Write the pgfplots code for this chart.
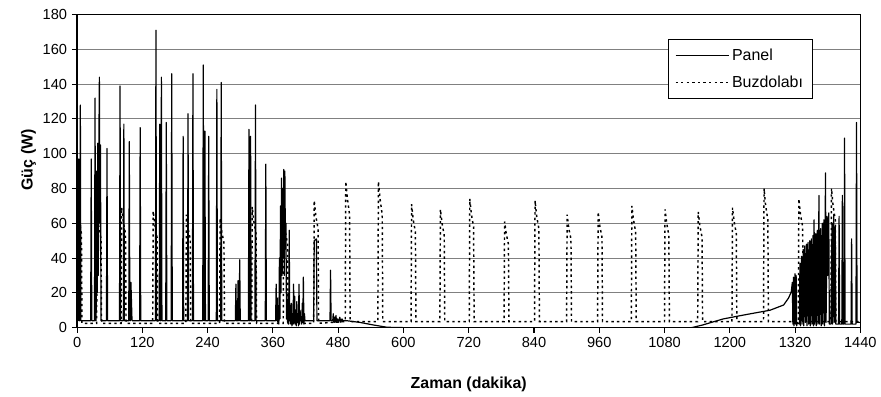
\documentclass[border=0pt]{standalone}
\usepackage{fontspec}
\setmainfont{Liberation Sans}
\usepackage{pgfplots}
\pgfplotsset{compat=1.18}
\definecolor{gridgray}{RGB}{128,128,128}
\begin{document}
\begin{tikzpicture}
\begin{axis}[
  scale only axis, width=589.3pt, height=235.5pt,
  xmin=0, xmax=1440, ymin=0, ymax=180,
  xtick={0,120,...,1440}, ytick={0,20,...,180},
  tick align=outside, major tick length=4pt, tick pos=left,
  ymajorgrids, grid style={gridgray, line width=0.75pt},
  axis line style={black, line width=1pt},
  tick style={black, line width=0.8pt},
  ticklabel style={font=\fontsize{11}{13}\selectfont},
  /pgf/number format/assume math mode=true,
  /pgf/number format/1000 sep={},
  xlabel={Zaman (dakika)}, ylabel={Güç (W)},
  every axis x label/.style={at={(axis description cs:0.5,0)}, anchor=center, yshift=-43pt,
    font=\fontsize{12}{14}\selectfont\bfseries},
  every axis y label/.style={at={(axis description cs:0,0.536)}, xshift=-36.6pt, rotate=90, anchor=center,
    font=\fontsize{12}{14}\selectfont\bfseries},
  legend style={at={(0.754,0.9226)}, anchor=north west, draw=black, line width=0.75pt, fill=white,
    font=\fontsize{12}{14}\selectfont, inner xsep=5pt, inner ysep=5pt, row sep=6pt},
  legend cell align=left,
  legend image code/.code={\draw[#1] (0pt,0pt) -- (40pt,0pt);},
]
\addplot[black, line width=0.9pt, line join=round] coordinates {
(0,4) (2,4) (3,97) (4,4) (5,4) (6,128) (7,4) (25,4) (26,97) (27,4) (32,4) (33,132) (34,4)
(35,4) (36,90) (37,20) (38,106) (39,30) (40,104) (41,144) (42,60) (43,105) (44,4)
(54,4) (55,103) (56,4) (78,4) (79,139) (80,4) (85,4) (86,117) (87,4) (95,4) (96,107) (97,4)
(98,4) (99,26) (101,4) (115,4) (116,115) (117,4) (144,4) (145,171) (146,4) (151,4) (152,117) (153,4)
(154,4) (155,144) (156,4) (163,4) (164,118) (165,4) (173,4) (174,146) (175,4) (194,4) (195,110) (196,4)
(203,4) (204,123) (205,4) (212,4) (213,146) (214,4) (231,4) (232,151) (233,4) (234,4) (235,113) (236,4)
(241,4) (242,110) (243,4) (256,4) (257,137) (258,4) (264,4) (265,141) (266,4) (291,4) (292,25) (293,4)
(295,4) (296,27) (297,4) (298,4) (299,39) (300,4) (315,4) (316,114) (317,4) (318,4) (319,110) (320,4)
(327,4) (328,128) (329,4) (346,4) (347,94) (348,4) (365,4) (366,25) (367,4) (368,17) (369,3) (370,8)
(371,2) (372,40) (373,5) (374,70) (375,20) (376,86) (377,30) (378,80) (379,40) (380,91) (381,30)
(382,90) (383,50) (384,60) (385,5) (386,20) (387,3) (388,12) (389,2) (390,56) (391,4) (392,10)
(393,2) (394,14) (395,1) (396,8) (397,2) (398,25) (399,3) (400,18) (401,2) (402,10) (403,1) (404,15)
(405,3) (406,8) (407,1) (408,25) (409,2) (410,10) (411,4) (412,6) (413,2) (414,14) (415,3) (416,29)
(417,2) (418,8) (419,4) (435,4) (436,50) (440,51) (441,4) (465,4) (466,33) (467,4) (470,4) (471,8)
(472,3) (473,6) (474,3) (476,7) (477,3) (479,5) (481,3) (483,6) (485,3) (487,5) (489,4) (495,4)
(520,3) (545,1.5) (570,0.2) (600,0) (1130,0) (1150,1.5) (1188,5) (1230,7.5) (1274,10) (1299,13)
(1308,17) (1313,20.5) (1315,26) (1316,2) (1317,29) (1318,1) (1320,31) (1321,2) (1322,30) (1323,1)
(1324,3) (1328,2) (1329,37) (1330,1) (1332,41) (1333,2) (1335,45) (1336,1) (1338,47) (1339,3)
(1341,48) (1342,1) (1344,49) (1345,2) (1347,50) (1348,1) (1350,51) (1351,2) (1353,53) (1354,1)
(1355,62) (1356,2) (1358,54) (1359,1) (1361,56) (1362,2) (1364,76) (1365,2) (1367,57) (1368,1)
(1370,60) (1371,2) (1373,62) (1374,1) (1376,89) (1377,3) (1379,64) (1380,30) (1382,66) (1383,2)
(1386,2) (1388,60) (1389,2) (1391,65) (1392,3) (1394,58) (1395,2) (1400,2) (1401,64)
(1402,2) (1406,2) (1407,76) (1408,2) (1410,2) (1411,109) (1412,2) (1423,2) (1424,51) (1425,2)
(1432,2) (1433,118) (1434,3) (1440,3)
};
\addlegendentry{Panel}
\addplot[black, line width=1.1pt, dash pattern=on 1.8pt off 2.4pt] coordinates {
(0,2.5) (1,69) (4,61) (8,54) (9,2.5)
(36,2.5) (37,66) (40,58) (44,51) (45,2.5)
(81,2.5) (82,69) (85,61) (89,54) (90,2.5)
(139,2.5) (140,67) (143,59) (147,52) (148,2.5)
(200,2.5) (201,65) (204,57) (208,51) (209,2.5)
(262,2.5) (263,63) (266,55) (270,49) (271,2.5)
(321,2.5) (322,69.5) (325,61) (329,54) (330,2.5)
(379,2.5) (380,62) (383,55) (387,48) (388,2.5)
(435,2.5) (436,73) (439,64) (443,57) (444,2.5)
(493,3.5) (494,84) (497,74) (501,65) (502,3.5)
(553,3.5) (554,84) (557,74) (561,65) (562,3.5)
(614,3.5) (615,71) (618,62) (622,55) (623,3.5)
(667,3.5) (668,68) (671,60) (675,53) (676,3.5)
(721,3.5) (722,74) (725,65) (729,58) (730,3.5)
(785,3.5) (786,61) (789,54) (793,48) (794,3.5)
(841,3.5) (842,73) (845,64) (849,57) (850,3.5)
(900,3.5) (901,65) (904,57) (908,51) (909,3.5)
(957,3.5) (958,66.5) (961,58.5) (965,52) (966,3.5)
(1019,3.5) (1020,70) (1023,62) (1027,55) (1028,3.5)
(1080,3.5) (1081,68) (1084,60) (1088,53) (1089,3.5)
(1141,3.5) (1142,66.5) (1145,58.5) (1149,52) (1150,3.5)
(1204,3.5) (1205,69) (1208,61) (1212,54) (1213,3.5)
(1262,3.5) (1263,80) (1266,70) (1270,62) (1271,3.5)
(1326,3.5) (1327,74) (1330,65) (1334,58) (1335,3.5)
(1386,3.5) (1387,80) (1390,70) (1394,62) (1395,3.5)
(1440,3.5)
};
\addlegendentry{Buzdolabı}
\end{axis}
\path ([xshift=-58pt,yshift=-50.5pt]current axis.south west) rectangle ([xshift=13.5pt,yshift=11pt]current axis.north east);
\end{tikzpicture}
\end{document}
